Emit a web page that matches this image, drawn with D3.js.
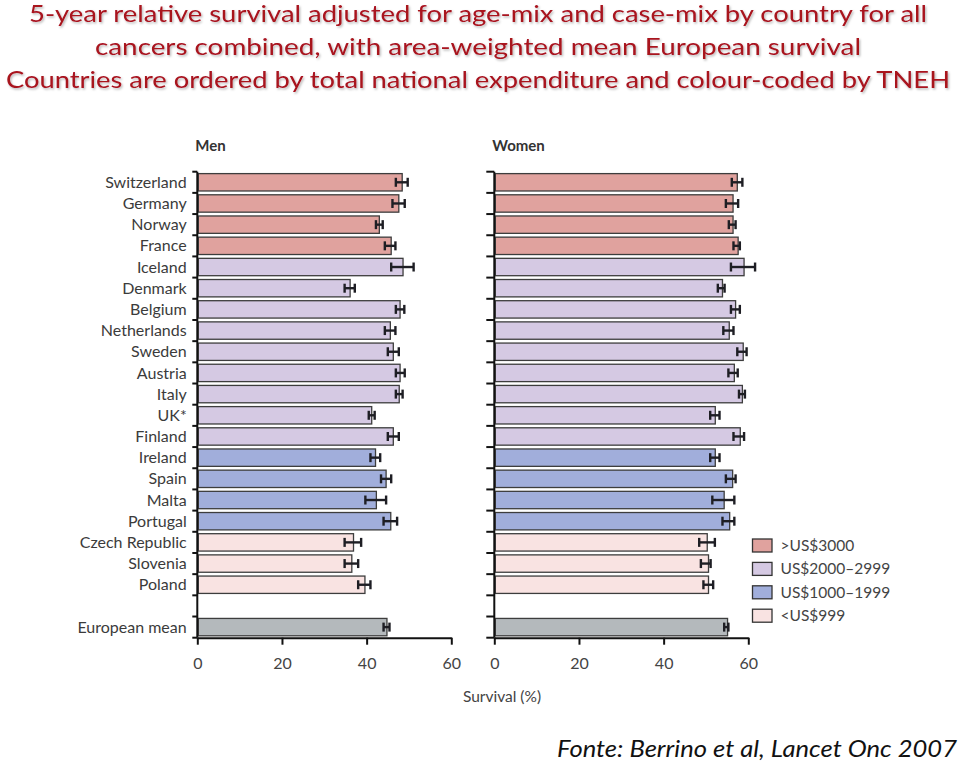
<!DOCTYPE html>
<html>
<head>
<meta charset="utf-8">
<script src="https://cdn.jsdelivr.net/npm/d3@7"></script>
<style>
  html, body { margin: 0; padding: 0; background: #fff; }
  svg { display: block; }
</style>
</head>
<body>
<svg id="chart" width="960" height="761"></svg>
<script>
// ---------- DATA ----------
const titleLines = [
  "5-year relative survival adjusted for age-mix and case-mix by country for all",
  "cancers combined, with area-weighted mean European survival",
  "Countries are ordered by total national expenditure and colour-coded by TNEH"
];
const sourceText = "Fonte: Berrino et al, Lancet Onc 2007";

const countries = ["Switzerland","Germany","Norway","France","Iceland","Denmark","Belgium","Netherlands","Sweden","Austria","Italy","UK*","Finland","Ireland","Spain","Malta","Portugal","Czech Republic","Slovenia","Poland","European mean"];
// TNEH group index: 0 >US$3000, 1 US$2000-2999, 2 US$1000-1999, 3 <US$999, 4 European mean
const tnehGroup = [0,0,0,0,1,1,1,1,1,1,1,1,1,2,2,2,2,3,3,3,4];

const menValue = [48.4,47.6,43.0,45.8,48.6,36.1,47.9,45.6,46.3,47.9,47.7,41.2,46.3,42.1,44.6,42.3,45.7,36.9,36.5,39.6,44.8];
const menLow   = [46.9,46.1,42.2,44.3,45.8,34.8,46.9,44.3,45.0,46.9,46.9,40.5,45.0,40.9,43.4,39.7,44.0,34.8,34.8,38.0,44.0];
const menHigh  = [49.7,49.0,43.8,46.8,51.1,37.2,48.9,46.8,47.6,49.0,48.5,41.9,47.6,43.2,45.8,44.6,47.2,38.7,38.0,40.9,45.4];

const womenValue = [57.4,56.4,56.4,57.6,59.0,53.9,57.0,55.5,58.8,56.7,58.6,52.2,58.1,52.2,56.3,54.3,55.6,50.3,50.6,50.6,55.1];
const womenLow   = [56.1,54.7,55.4,56.5,55.9,52.8,55.9,54.1,57.4,55.3,57.8,51.0,56.5,51.0,54.7,51.5,53.9,48.4,48.8,49.4,54.3];
const womenHigh  = [58.6,57.6,57.0,58.0,61.6,54.4,58.0,56.5,59.6,57.5,59.2,53.2,59.0,53.2,57.0,56.7,56.7,52.1,51.1,51.7,55.3];

const legendLabels = [">US$3000","US$2000\u20132999","US$1000\u20131999","<US$999"];
const groupColors = ["#e0a29e","#d5c9e3","#a1aedb","#f9e3e2","#b4b9bc"];
const xTicks = [0,20,40,60];
const panelTitles = ["Men","Women"];
const xAxisTitle = "Survival (%)";

// ---------- LAYOUT ----------
const svg = d3.select("#chart");
const font = "Lato, 'Open Sans', sans-serif";

const defs = svg.append("defs");
const f = defs.append("filter").attr("id","shadow").attr("x","-2%").attr("y","-20%").attr("width","104%").attr("height","150%");
f.append("feDropShadow").attr("dx",1.2).attr("dy",1.5).attr("stdDeviation",1).attr("flood-color","#000").attr("flood-opacity",0.3);

// Title
const titleWidths = [898, 766, 944];
const titleY = [22, 55, 88];
titleLines.forEach((t,i) => {
  svg.append("text")
    .attr("x", 478).attr("y", titleY[i])
    .attr("text-anchor","middle")
    .attr("font-family", font)
    .attr("font-size", 22.5)
    .attr("fill", "#a8121f")
    .attr("filter","url(#shadow)")
    .attr("textLength", titleWidths[i])
    .attr("lengthAdjust","spacingAndGlyphs")
    .text(t);
});

// Band scale (countries, a gap slot, then European mean)
const slotKeys = countries.slice(0, 20).concat(["__gap__"], [countries[20]]);
const pad = 0.18;
const y = d3.scaleBand().domain(slotKeys).range([171.7, 637.7]).paddingInner(pad).paddingOuter(pad/2);
const rowKey = i => i < 20 ? countries[i] : countries[20];

const panels = [
  {x0: 197.3, x1: 451.3, values: menValue, low: menLow, high: menHigh, tick: 5, labels: true, title: panelTitles[0]},
  {x0: 494.3, x1: 748.3, values: womenValue, low: womenLow, high: womenHigh, tick: 8, labels: false, title: panelTitles[1]}
];

panels.forEach(p => {
  const x = d3.scaleLinear().domain([0, 60]).range([p.x0, p.x1]);
  const g = svg.append("g");

  // bars
  countries.forEach((c, i) => {
    const yy = y(rowKey(i));
    g.append("rect")
      .attr("x", x(0) + 1).attr("y", yy)
      .attr("width", x(p.values[i]) - x(0) - 1)
      .attr("height", y.bandwidth())
      .attr("fill", groupColors[tnehGroup[i]])
      .attr("stroke", "#3d3d3d").attr("stroke-width", 1.3);
  });

  // error bars
  countries.forEach((c, i) => {
    const cy = y(rowKey(i)) + y.bandwidth()/2;
    const eg = g.append("g").attr("stroke", "#1e1e24").attr("stroke-width", 2.4);
    eg.append("line").attr("x1", x(p.low[i])).attr("x2", x(p.high[i])).attr("y1", cy).attr("y2", cy);
    eg.append("line").attr("x1", x(p.low[i])).attr("x2", x(p.low[i])).attr("y1", cy-4.5).attr("y2", cy+4.5);
    eg.append("line").attr("x1", x(p.high[i])).attr("x2", x(p.high[i])).attr("y1", cy-4.5).attr("y2", cy+4.5);
  });

  // y axis line and slot ticks
  const yTop = y.range()[0], yBot = y.range()[1];
  g.append("line").attr("x1", x(0)).attr("x2", x(0)).attr("y1", yTop).attr("y2", yBot)
    .attr("stroke", "#111").attr("stroke-width", 2);
  const boundaries = slotKeys.map(k => y(k) - y.step()*pad/2).concat([yBot]);
  boundaries.forEach(b => {
    g.append("line").attr("x1", x(0) - p.tick).attr("x2", x(0)).attr("y1", b).attr("y2", b)
      .attr("stroke", "#111").attr("stroke-width", 2);
  });

  // labels
  if (p.labels) {
    countries.forEach((c, i) => {
      g.append("text")
        .attr("x", 186.7).attr("y", y(rowKey(i)) + y.bandwidth()/2)
        .attr("dy", "0.35em")
        .attr("text-anchor", "end")
        .attr("font-family", font).attr("font-size", 16)
        .attr("fill", "#3b3b3b")
        .text(c);
    });
  }

  // x axis
  const ax = svg.append("g").attr("transform", `translate(0,${yBot})`)
    .call(d3.axisBottom(x).tickValues(xTicks).tickSize(7).tickPadding(13).tickSizeOuter(0));
  ax.select(".domain").attr("stroke", "#111").attr("stroke-width", 2);
  ax.selectAll(".tick line").attr("stroke", "#111").attr("stroke-width", 2);
  ax.selectAll(".tick text").attr("font-family", font).attr("font-size", 16).attr("fill", "#444");

  // panel title
  svg.append("text").attr("x", p.x0 - 2).attr("y", 150.5)
    .attr("font-family", font).attr("font-size", 15).attr("font-weight", "bold")
    .attr("fill", "#333").text(p.title);
});

// x axis title
svg.append("text").attr("x", 502).attr("y", 702)
  .attr("text-anchor", "middle")
  .attr("font-family", font).attr("font-size", 15.5).attr("fill", "#444")
  .text(xAxisTitle);

// legend
legendLabels.forEach((l, i) => {
  const ly = 539 + i * 23.4;
  svg.append("rect").attr("x", 752.5).attr("y", ly).attr("width", 19.5).attr("height", 13)
    .attr("fill", groupColors[i]).attr("stroke", "#333").attr("stroke-width", 1.3);
  svg.append("text").attr("x", 780.5).attr("y", ly + 6.5).attr("dy", "0.36em")
    .attr("font-family", font).attr("font-size", 15.5).attr("fill", "#444")
    .text(l);
});

// source
svg.append("text").attr("x", 957).attr("y", 757)
  .attr("text-anchor", "end")
  .attr("font-family", font).attr("font-size", 23.5).attr("font-style", "italic")
  .attr("fill", "#111")
  .attr("textLength", 400).attr("lengthAdjust", "spacingAndGlyphs")
  .text(sourceText);
</script>
</body>
</html>
